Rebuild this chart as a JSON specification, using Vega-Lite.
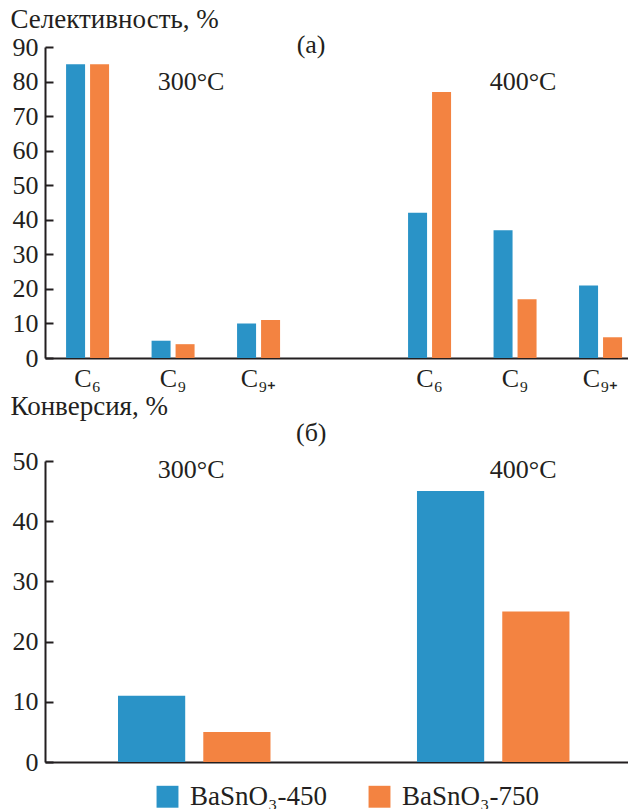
{
  "$schema": "https://vega.github.io/schema/vega-lite/v6.json",
  "background": "white",
  "padding": {"left": 10, "top": 5, "right": 0, "bottom": 0},
  "bounds": "flush",
  "spacing": 103,
  "config": {
    "font": "Liberation Serif",
    "view": {"stroke": null},
    "axis": {
      "labelFont": "Liberation Serif",
      "labelFontSize": 26,
      "labelColor": "#231f20",
      "titleFont": "Liberation Serif",
      "titleFontSize": 27,
      "titleFontWeight": "normal",
      "titleColor": "#231f20",
      "domainColor": "#231f20",
      "tickColor": "#231f20",
      "grid": false,
      "labelOverlap": false
    },
    "text": {"font": "Liberation Serif", "fontSize": 26, "color": "#231f20"}
  },
  "resolve": {"scale": {"x": "independent", "y": "independent", "xOffset": "independent", "color": "shared"}},
  "vconcat": [
    {
      "width": 583,
      "height": 311,
      "encoding": {
        "x": {
          "field": "slot",
          "type": "nominal",
          "sort": null,
          "title": null,
          "scale": {
            "domain": ["300|C₆", "300|C₉", "300|C₉₊", "gap", "400|C₆", "400|C₉", "400|C₉₊"],
            "paddingInner": 0.497,
            "paddingOuter": 0.158,
            "align": 0.78
          },
          "axis": {
            "labelAngle": 0,
            "ticks": false,
            "domain": true,
            "domainWidth": 2,
            "labelPadding": 7,
            "labelFontSize": 26,
            "labelOverlap": false,
            "labelExpr": "indexof(datum.value, '|') >= 0 ? split(datum.value, '|')[1] : ''"
          }
        },
        "y": {
          "field": "value",
          "type": "quantitative",
          "scale": {"domain": [0, 90], "nice": false},
          "axis": {
            "title": "Селективность, %",
            "values": [0, 10, 20, 30, 40, 50, 60, 70, 80, 90],
            "labelOverlap": false,
            "domain": true,
            "domainColor": "#231f20",
            "domainWidth": 2,
            "zindex": 2,
            "ticks": true,
            "tickColor": "#231f20",
            "tickSize": -8,
            "tickWidth": 2,
            "labelPadding": 15,
            "titleAngle": 0,
            "titleAlign": "left",
            "titleBaseline": "alphabetic",
            "titleX": -35,
            "titleY": -20
          }
        }
      },
      "layer": [
        {
          "data": {
            "values": [
              {"slot": "300|C₆", "sample": "BaSnO₃-450", "value": 85},
              {"slot": "300|C₆", "sample": "BaSnO₃-750", "value": 85},
              {"slot": "300|C₉", "sample": "BaSnO₃-450", "value": 5},
              {"slot": "300|C₉", "sample": "BaSnO₃-750", "value": 4},
              {"slot": "300|C₉₊", "sample": "BaSnO₃-450", "value": 10},
              {"slot": "300|C₉₊", "sample": "BaSnO₃-750", "value": 11},
              {"slot": "400|C₆", "sample": "BaSnO₃-450", "value": 42},
              {"slot": "400|C₆", "sample": "BaSnO₃-750", "value": 77},
              {"slot": "400|C₉", "sample": "BaSnO₃-450", "value": 37},
              {"slot": "400|C₉", "sample": "BaSnO₃-750", "value": 17},
              {"slot": "400|C₉₊", "sample": "BaSnO₃-450", "value": 21},
              {"slot": "400|C₉₊", "sample": "BaSnO₃-750", "value": 6}
            ]
          },
          "mark": {"type": "bar"},
          "encoding": {
            "xOffset": {
              "field": "sample",
              "type": "nominal",
              "scale": {"paddingInner": 0.208, "paddingOuter": 0}
            },
            "color": {
              "field": "sample",
              "type": "nominal",
              "scale": {"domain": ["BaSnO₃-450", "BaSnO₃-750"], "range": ["#2a93c7", "#f38341"]},
              "legend": {
                "title": null,
                "orient": "none",
                "direction": "horizontal",
                "legendX": 109,
                "legendY": 736,
                "symbolType": "square",
                "symbolSize": 480,
                "symbolStrokeWidth": 0,
                "labelFont": "Liberation Serif",
                "labelFontSize": 27,
                "labelColor": "#231f20",
                "labelOffset": 9,
                "columnPadding": 39,
                "padding": 0
              }
            }
          }
        },
        {
          "data": {"values": [{"slot": "300|C₉", "value": 80, "label": "300°C"}]},
          "mark": {"type": "text", "dx": 18, "baseline": "middle"},
          "encoding": {"text": {"field": "label"}}
        },
        {
          "data": {"values": [{"slot": "400|C₉", "value": 80, "label": "400°C"}]},
          "mark": {"type": "text", "dx": 8, "baseline": "middle"},
          "encoding": {"text": {"field": "label"}}
        },
        {
          "data": {"values": [{"slot": "gap", "value": 90.6, "label": "(a)"}]},
          "mark": {"type": "text", "dx": -33, "baseline": "middle"},
          "encoding": {"text": {"field": "label"}}
        }
      ]
    },
    {
      "width": 583,
      "height": 301,
      "encoding": {
        "x": {
          "field": "temp",
          "type": "nominal",
          "title": null,
          "scale": {"domain": ["300", "400"], "paddingInner": 0.49, "paddingOuter": 0.22, "align": 0.555},
          "axis": {"labels": false, "ticks": false, "domain": true, "domainWidth": 2}
        },
        "y": {
          "field": "value",
          "type": "quantitative",
          "scale": {"domain": [0, 50], "nice": false},
          "axis": {
            "title": "Конверсия, %",
            "values": [0, 10, 20, 30, 40, 50],
            "labelOverlap": false,
            "domain": true,
            "domainColor": "#231f20",
            "domainWidth": 2,
            "zindex": 2,
            "ticks": true,
            "tickColor": "#231f20",
            "tickSize": -8,
            "tickWidth": 2,
            "labelPadding": 15,
            "titleAngle": 0,
            "titleAlign": "left",
            "titleBaseline": "alphabetic",
            "titleX": -35,
            "titleY": -47
          }
        }
      },
      "layer": [
        {
          "data": {
            "values": [
              {"temp": "300", "sample": "BaSnO₃-450", "value": 11},
              {"temp": "300", "sample": "BaSnO₃-750", "value": 5},
              {"temp": "400", "sample": "BaSnO₃-450", "value": 45},
              {"temp": "400", "sample": "BaSnO₃-750", "value": 25}
            ]
          },
          "mark": {"type": "bar"},
          "encoding": {
            "xOffset": {
              "field": "sample",
              "type": "nominal",
              "scale": {"paddingInner": 0.212, "paddingOuter": 0}
            },
            "color": {
              "field": "sample",
              "type": "nominal",
              "scale": {"domain": ["BaSnO₃-450", "BaSnO₃-750"], "range": ["#2a93c7", "#f38341"]}
            }
          }
        },
        {
          "data": {"values": [{"temp": "300", "value": 48.5, "label": "300°C"}]},
          "mark": {"type": "text", "dx": -3, "baseline": "middle"},
          "encoding": {"text": {"field": "label"}}
        },
        {
          "data": {"values": [{"temp": "400", "value": 48.5, "label": "400°C"}]},
          "mark": {"type": "text", "dx": 30, "baseline": "middle"},
          "encoding": {"text": {"field": "label"}}
        },
        {
          "data": {"values": [{"temp": "300", "value": 54.6, "label": "(б)"}]},
          "mark": {"type": "text", "dx": 117, "baseline": "middle"},
          "encoding": {"text": {"field": "label"}}
        }
      ]
    }
  ]
}
